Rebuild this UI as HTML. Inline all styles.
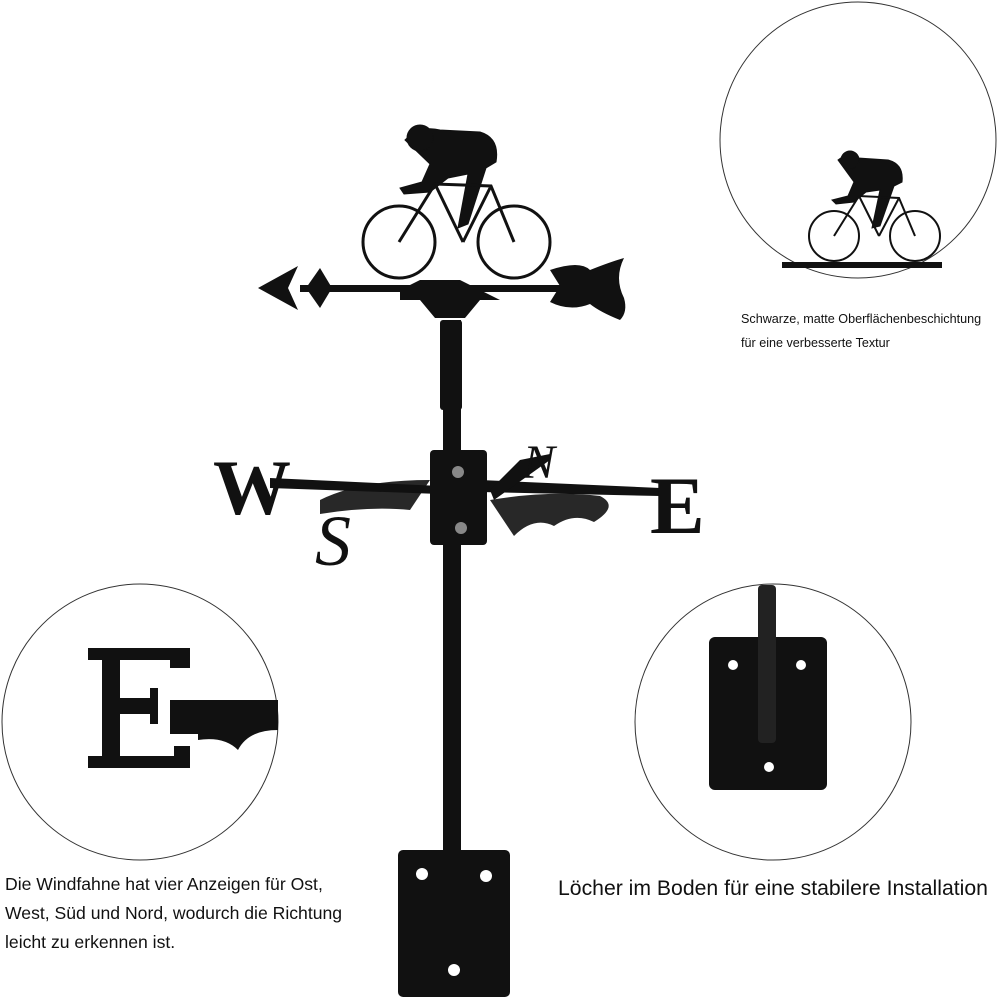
<!DOCTYPE html>
<html><head><meta charset="utf-8"><style>
html,body{margin:0;padding:0;background:#fff;width:1000px;height:1000px;overflow:hidden}
svg{display:block}
.t{font-family:"Liberation Sans",sans-serif;fill:#111}
</style></head><body>
<svg width="1000" height="1000" viewBox="0 0 1000 1000" xmlns="http://www.w3.org/2000/svg">
<rect width="1000" height="1000" fill="#fff"/>

<circle cx="858" cy="140" r="138" fill="#fff" stroke="#333" stroke-width="1"/>
<g fill="#111" stroke="#111">
 <circle cx="834" cy="236" r="25" fill="none" stroke-width="2"/>
 <circle cx="915" cy="236" r="25" fill="none" stroke-width="2"/>
 <path d="M838 160 q10 -8 20 -2 l30 2 q16 4 14 22 l-8 4 -14 40 -8 2 8 -38 -14 2 -12 10 -18 2 -4 -4 16 -4 6 -14z" stroke-width="1"/>
 <circle cx="850" cy="160" r="9"/>
 <path d="M834 236 l25 -40 40 2 16 38 M859 196 l20 40 M879 236 l20 -38" fill="none" stroke-width="2"/>
 <rect x="782" y="262" width="160" height="6" stroke="none"/>
</g>
<text class="t" x="741" y="323" font-size="12.6">Schwarze, matte Oberflächenbeschichtung</text>
<text class="t" x="741" y="347" font-size="12.6">für eine verbesserte Textur</text>

<circle cx="140" cy="722" r="138" fill="#fff" stroke="#333" stroke-width="1"/>
<g fill="#111">
 <path d="M88 648 h102 v20 h-20 v-8 h-50 v38 h30 v-10 h8 v36 h-8 v-10 h-30 v42 h54 v-10 h16 v22 h-102 v-12 h14 v-96 h-14z"/>
 <path d="M170 700 h108 v30 q-30 0 -40 20 q-14 -14 -40 -10 v-6 h-28z"/>
</g>

<circle cx="773" cy="722" r="138" fill="#fff" stroke="#333" stroke-width="1"/>
<rect x="709" y="637" width="118" height="153" rx="6" fill="#111"/>
<rect x="758" y="585" width="18" height="158" rx="4" fill="#222"/>
<circle cx="733" cy="665" r="5" fill="#fff"/>
<circle cx="801" cy="665" r="5" fill="#fff"/>
<circle cx="769" cy="767" r="5" fill="#fff"/>

<text class="t" x="5" y="890" font-size="17.6">Die Windfahne hat vier Anzeigen für Ost,</text>
<text class="t" x="5" y="919" font-size="17.6">West, Süd und Nord, wodurch die Richtung</text>
<text class="t" x="5" y="948" font-size="17.6">leicht zu erkennen ist.</text>
<text class="t" x="558" y="895" font-size="21.2">Löcher im Boden für eine stabilere Installation</text>

<g fill="#111" stroke="#111">
 <rect x="443" y="320" width="18" height="530" stroke="none"/>
 <rect x="440" y="320" width="22" height="90" rx="3" stroke="none"/>
 <rect x="398" y="850" width="112" height="147" rx="5" stroke="none"/>
 <rect x="300" y="285" width="262" height="7" stroke="none"/>
 <path d="M258 288 l40 -22 -10 22 10 22z" stroke="none"/>
 <path d="M320 268 l-14 20 14 20 l12 -20z" stroke="none"/>
 <path d="M550 270 q30 -10 40 0 q20 -8 34 -12 q-10 20 0 40 q4 14 -4 22 q-20 -8 -30 -16 q-20 8 -40 -2 l10 -16z" stroke="none"/>
 <path d="M400 290 l20 -10 h40 l20 10 l20 10 h-20 l-15 18 h-30 l-15 -18 h-20z" stroke="none"/>
 <circle cx="399" cy="242" r="36" fill="none" stroke-width="3"/>
 <circle cx="514" cy="242" r="36" fill="none" stroke-width="3"/>
 <path d="M405 140 q15 -15 35 -10 l40 2 q20 6 16 30 l-10 6 -18 56 -10 4 10 -54 -20 4 -18 14 -26 2 -4 -6 22 -6 8 -18z" stroke-width="1"/>
 <circle cx="420" cy="138" r="13"/>
 <path d="M399 242 l36 -58 56 2 23 56 M435 184 l28 58 M463 242 l28 -56" fill="none" stroke-width="3"/>
 <path d="M270 478 l170 8 v8 l-170 -6z" stroke="none"/>
 <path d="M480 480 l180 8 v8 l-180 -4z" stroke="none"/>
 <path d="M320 500 q40 -20 110 -20 l-20 30 q-40 -4 -90 4z" stroke="none" opacity=".9"/>
 <path d="M490 490 l30 -30 30 -6 v6 l-56 40z" stroke="none"/>
 <path d="M490 500 q60 -10 110 -4 q20 10 -6 26 q-20 -10 -40 4 q-20 -10 -40 10z" stroke="none" opacity=".9"/>
 <text x="213" y="514" font-size="78" font-weight="bold" stroke="none" style="fill:#111;font-family:'Liberation Serif',serif">W</text>
 <text x="650" y="533" font-size="82" font-weight="bold" stroke="none" style="fill:#111;font-family:'Liberation Serif',serif">E</text>
 <text x="315" y="565" font-size="72" font-style="italic" stroke="none" style="fill:#111;font-family:'Liberation Serif',serif">S</text>
 <text x="523" y="478" font-size="48" font-style="italic" stroke="none" style="fill:#111;font-family:'Liberation Serif',serif">N</text>
 <rect x="430" y="450" width="57" height="95" rx="4" stroke="none"/>
 <circle cx="458" cy="472" r="6" fill="#888" stroke="none"/>
 <circle cx="461" cy="528" r="6" fill="#888" stroke="none"/>
</g>
<circle cx="422" cy="874" r="6" fill="#fff"/>
<circle cx="486" cy="876" r="6" fill="#fff"/>
<circle cx="454" cy="970" r="6" fill="#fff"/>
</svg>
</body></html>
